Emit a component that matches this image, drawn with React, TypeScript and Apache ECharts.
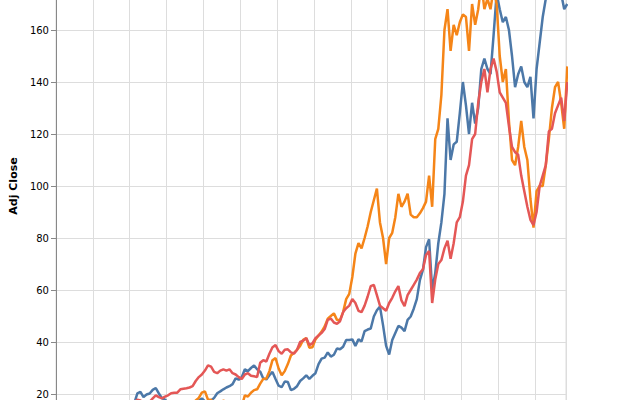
import React, { useEffect, useRef } from "react";
import * as echarts from "echarts";

// Monthly closes, first value = January 2010 (mid-month samples)
const startYear = 2010;

const seriesNames = ["AAPL", "AMZN", "GOOG"];
const seriesColors = ["#4c78a8", "#f58518", "#e45756"];

const aapl = [
  6.3, 6.0, 6.9, 7.7, 7.6, 8.0, 7.8, 7.6, 8.2, 9.3, 9.6, 9.8,
  10.4, 10.8, 10.5, 10.6, 10.4, 10.1, 11.4, 11.6, 11.9, 12.4, 11.7, 12.0,
  13.5, 16.5, 20.2, 20.8, 18.8, 19.8, 20.2, 21.6, 22.3, 20.2, 18.4, 17.8,
  16.8, 14.8, 14.2, 13.5, 14.5, 13.8, 14.1, 15.9, 15.8, 16.8, 17.5, 18.3,
  17.2, 17.0, 17.5, 18.5, 20.3, 21.0, 21.8, 22.5, 23.0, 23.8, 26.0, 25.5,
  26.5, 29.5, 28.8, 30.0, 31.0, 29.5, 28.6, 26.0, 25.6, 27.2, 28.5, 25.8,
  23.2, 22.6, 24.8, 24.6, 21.5, 22.0, 23.0, 25.0, 26.0, 27.2, 25.8, 27.0,
  28.0, 31.5, 33.6, 34.0, 36.0, 34.4, 35.1, 37.5, 37.2, 38.2, 40.8, 40.8,
  41.0, 38.5, 41.0, 40.2, 44.2, 44.8, 45.2, 49.8, 52.2, 53.6, 46.5, 38.5,
  35.2, 40.8, 43.5, 46.2, 45.5, 44.2, 48.5, 49.8, 52.8, 56.5, 63.8, 67.8,
  76.5, 79.5, 60.0, 66.5, 78.0, 86.0, 97.0, 126.0, 110.0, 116.0, 117.0, 128.0,
  140.0, 131.0, 120.0, 132.0, 124.0, 130.0, 145.0, 149.0, 145.0, 143.0, 158.0, 174.0,
  168.0, 163.0, 165.0, 160.0, 150.0, 138.0, 143.0, 146.0, 140.0, 138.0, 142.0, 126.0,
  145.0, 155.0, 165.0, 172.0, 176.0, 183.0, 190.0, 180.0, 174.0, 168.0, 170.0,
];

const amzn = [
  6.5, 5.9, 6.6, 6.9, 6.3, 5.8, 5.9, 6.2, 7.2, 8.0, 8.5, 8.9,
  8.8, 9.2, 8.9, 9.8, 9.8, 10.0, 10.9, 10.3, 11.4, 11.0, 9.8, 8.7,
  9.5, 9.0, 9.5, 10.5, 10.8, 11.1, 11.5, 12.0, 12.6, 11.8, 12.0, 12.5,
  13.4, 13.2, 13.3, 13.0, 13.2, 13.8, 15.0, 14.2, 15.5, 17.5, 18.5, 20.5,
  21.0, 17.8, 17.8, 16.0, 15.5, 16.2, 17.5, 16.8, 16.6, 15.3, 16.8, 15.5,
  15.3, 19.5, 19.0, 20.5, 21.5, 21.8, 24.0, 25.8, 26.0, 28.8, 33.0, 33.8,
  29.8, 27.2, 28.8, 31.5, 34.8, 35.8, 37.0, 38.5, 40.8, 41.5, 37.8, 38.0,
  41.0, 42.5, 44.0, 46.0, 49.0, 50.0, 51.0, 48.5, 48.5, 51.5, 56.5, 58.5,
  65.0, 74.0, 78.0, 76.0, 80.0, 84.5, 90.0, 94.5, 99.0, 86.0, 80.0, 70.0,
  80.0, 82.0, 88.0, 97.0, 92.0, 94.0, 97.0, 89.0, 88.0, 88.0, 89.5, 91.5,
  94.0, 104.0, 92.0, 118.0, 122.0, 135.0, 160.0, 168.0, 152.0, 162.0, 158.0, 163.0,
  166.0, 165.0, 152.0, 170.0, 162.0, 168.0, 178.0, 168.0, 172.0, 168.0, 176.0, 170.0,
  150.0, 140.0, 145.0, 125.0, 110.0, 108.0, 115.0, 125.0, 115.0, 110.0, 95.0, 84.0,
  98.0, 100.0, 100.0, 108.0, 118.0, 130.0, 138.0, 140.0, 132.0, 122.0, 146.0,
];

const goog = [
  15.5, 13.3, 14.0, 13.8, 12.3, 12.0, 12.3, 11.7, 12.2, 15.0, 14.5, 14.9,
  15.5, 15.5, 14.3, 13.6, 13.2, 12.6, 14.5, 13.5, 13.3, 14.6, 14.9, 16.0,
  16.5, 16.8, 17.8, 17.5, 16.5, 16.2, 17.0, 18.3, 19.5, 18.8, 18.3, 19.0,
  19.5, 20.3, 20.5, 20.5, 21.8, 22.0, 22.2, 22.5, 23.0, 25.0, 26.5, 27.5,
  29.0, 31.0, 30.5, 28.5, 28.0, 29.0, 29.5, 29.0, 29.5, 28.0, 27.5, 26.5,
  25.8, 27.5, 28.0, 27.0, 26.8, 26.5, 32.0, 33.0, 32.5, 35.5, 38.0, 38.8,
  36.5, 35.5, 37.0, 37.2, 36.0, 35.5, 37.0, 40.0, 40.5, 41.5, 38.8, 39.5,
  41.5, 42.5, 43.5, 45.0, 48.5, 49.0, 47.5, 47.0, 48.0, 51.5, 53.0, 54.0,
  56.5, 55.0, 52.0, 51.5, 54.0, 57.5, 61.5, 62.0, 58.0, 54.0, 53.0, 52.0,
  55.0, 57.0, 59.5, 61.5, 56.0, 53.8, 58.0, 60.0, 62.0, 64.0, 66.5, 68.0,
  73.5, 75.0, 55.0, 64.0, 70.0, 71.5, 76.0, 79.0, 72.0, 78.0, 86.0, 88.0,
  94.0, 104.0, 108.0, 118.0, 120.0, 132.0, 140.0, 145.0, 136.0, 145.0, 149.0, 144.0,
  136.0, 134.0, 132.0, 123.0, 115.0, 113.0, 112.0, 104.0, 98.0, 92.0, 87.0, 85.0,
  90.0, 100.0, 104.0, 108.0, 121.0, 122.0, 128.0, 131.0, 134.0, 125.0, 140.0,
];

const seriesValues = [aapl, amzn, goog];

// y ticks that fall inside the visible frame
const yTickLabels = [20, 40, 60, 80, 100, 120, 140, 160];

const yMin = 0;
const yMax = 200;
const yStep = 20;
const xMin = 2010;
const xMax = 2023.84;

const FONT = "DejaVu Sans, sans-serif";

function toPoints(values: number[]) {
  return values.map((v, i) => [startYear + (i + 0.5) / 12, v]);
}

export default function App() {
  const ref = useRef<HTMLDivElement>(null);

  useEffect(() => {
    if (!ref.current) return;
    const chart = echarts.init(ref.current, undefined, { renderer: "svg" });
    chart.setOption({
      animation: false,
      backgroundColor: "#ffffff",
      grid: {
        left: 47,
        right: 74,
        top: 26,
        bottom: 54,
        show: true,
        borderColor: "#dddddd",
        borderWidth: 1,
        backgroundColor: "transparent",
      },
      xAxis: {
        type: "value",
        min: xMin,
        max: xMax,
        interval: 1,
        axisLine: { show: true, onZero: false, lineStyle: { color: "#888888", width: 1 } },
        axisTick: { show: true, length: 5, lineStyle: { color: "#888888" } },
        axisLabel: { show: false },
        splitLine: { show: true, lineStyle: { color: "#dddddd", width: 1 } },
      },
      yAxis: {
        type: "value",
        min: yMin,
        max: yMax,
        interval: yStep,
        name: "Adj Close",
        nameLocation: "middle",
        nameGap: 30,
        nameTextStyle: { fontFamily: FONT, fontSize: 11, fontWeight: "bold", color: "#000" },
        axisLine: { show: true, lineStyle: { color: "#888888", width: 1 } },
        axisTick: { show: true, length: 5, lineStyle: { color: "#888888" } },
        axisLabel: {
          margin: 7,
          fontFamily: FONT,
          fontSize: 10,
          color: "#000",
          showMinLabel: false,
          showMaxLabel: false,
          formatter: (v: number) => (yTickLabels.indexOf(v) >= 0 ? String(v) : ""),
        },
        splitLine: { show: true, lineStyle: { color: "#dddddd", width: 1 } },
      },
      series: seriesNames.map((name, k) => ({
        name,
        type: "line",
        data: toPoints(seriesValues[k]),
        showSymbol: false,
        symbol: "none",
        clip: true,
        color: seriesColors[k],
        lineStyle: { color: seriesColors[k], width: 2.5 },
        emphasis: { disabled: true },
      })),
    });
    return () => chart.dispose();
  }, []);

  return (
    <div
      style={{
        position: "fixed",
        left: 0,
        top: 0,
        width: 640,
        height: 400,
        overflow: "hidden",
        background: "#fff",
      }}
    >
      <div ref={ref} style={{ position: "absolute", left: 0, top: -100, width: 640, height: 600 }} />
    </div>
  );
}
